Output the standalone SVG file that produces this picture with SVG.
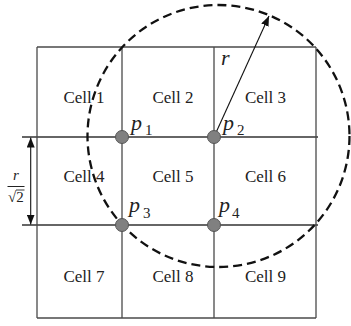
<svg xmlns="http://www.w3.org/2000/svg" width="351" height="326" viewBox="0 0 351 326">
<style>
text{font-family:"Liberation Serif","Times New Roman","DejaVu Serif",serif;fill:#222}
.grid{stroke:#4a4a4a;stroke-width:1.3;fill:none}
.cell{font-size:17px;text-anchor:middle}
.pt{fill:#808080;stroke:#555;stroke-width:1}
.lbl{font-style:italic;font-size:22px}
.sub{font-size:15px}
.conn{stroke:#111;stroke-width:1.1;fill:none}
</style>
<defs>
<marker id="ah" viewBox="0 0 10 8" refX="10" refY="4" markerWidth="10" markerHeight="8" markerUnits="userSpaceOnUse" orient="auto-start-reverse">
<path d="M0,0 L10,4 L0,8 Z" fill="#111"/>
</marker>
</defs>
<rect width="351" height="326" fill="#fff"/>
<g id="grid">
<line class="grid" x1="37" y1="47" x2="316" y2="47"/>
<line class="grid" x1="37" y1="318" x2="316" y2="318"/>
<line class="grid" x1="22" y1="137" x2="318" y2="137" style="stroke:#333"/>
<line class="grid" x1="22" y1="225" x2="318" y2="225" style="stroke:#333"/>
<line class="grid" x1="37" y1="47" x2="37" y2="318"/>
<line class="grid" x1="122" y1="47" x2="122" y2="318"/>
<line class="grid" x1="214" y1="47" x2="214" y2="318"/>
<line class="grid" x1="316" y1="47" x2="316" y2="318"/>
</g>
<g id="cells">
<g id="cell1"><text class="cell" x="84" y="103">Cell 1</text></g>
<g id="cell2"><text class="cell" x="173" y="103">Cell 2</text></g>
<g id="cell3"><text class="cell" x="265.5" y="103">Cell 3</text></g>
<g id="cell4"><text class="cell" x="84" y="182">Cell 4</text></g>
<g id="cell5"><text class="cell" x="173" y="182">Cell 5</text></g>
<g id="cell6"><text class="cell" x="265.5" y="182">Cell 6</text></g>
<g id="cell7"><text class="cell" x="84" y="282">Cell 7</text></g>
<g id="cell8"><text class="cell" x="173" y="282">Cell 8</text></g>
<g id="cell9"><text class="cell" x="265.5" y="282">Cell 9</text></g>
</g>
<g id="circle">
<circle cx="218.5" cy="136" r="131" fill="none" stroke="#111" stroke-width="2.3" stroke-dasharray="9 5"/>
</g>
<g id="connectors">
<line class="conn" x1="214" y1="137" x2="269" y2="16" marker-end="url(#ah)"/>
<line class="conn" x1="30.7" y1="137.5" x2="30.7" y2="224.5" marker-start="url(#ah)" marker-end="url(#ah)"/>
</g>
<g id="p1"><circle class="pt" cx="122" cy="137" r="6.5"/><text class="lbl" x="131" y="130">p</text><text class="sub" x="145" y="135">1</text></g>
<g id="p2"><circle class="pt" cx="214" cy="137" r="6.5"/><text class="lbl" x="223" y="130">p</text><text class="sub" x="237" y="135">2</text></g>
<g id="p3"><circle class="pt" cx="122" cy="225" r="6.5"/><text class="lbl" x="129" y="212">p</text><text class="sub" x="143" y="218">3</text></g>
<g id="p4"><circle class="pt" cx="214" cy="225" r="6.5"/><text class="lbl" x="219" y="212">p</text><text class="sub" x="232" y="218">4</text></g>
<g id="r-label"><text class="lbl" x="221" y="65">r</text></g>
<g id="dim-label">
<text x="16" y="180" font-style="italic" font-size="15" text-anchor="middle">r</text>
<line x1="7.5" y1="186.5" x2="24.5" y2="186.5" stroke="#222" stroke-width="1"/>
<text x="8" y="201.5" font-size="15">√2</text>
<line x1="16" y1="190" x2="24.5" y2="190" stroke="#222" stroke-width="0.9"/>
</g>
</svg>
